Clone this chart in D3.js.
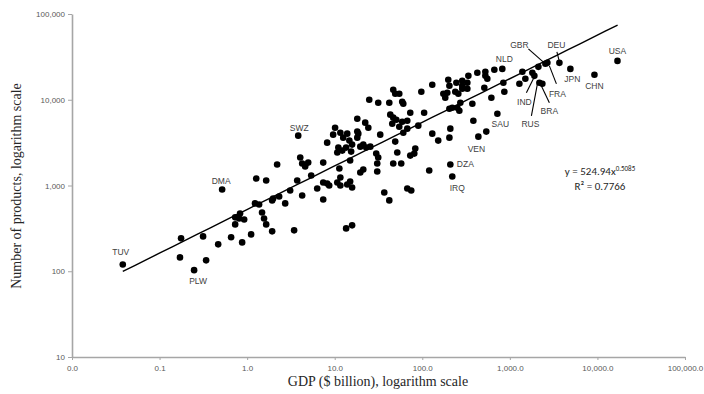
<!DOCTYPE html>
<html>
<head>
<meta charset="utf-8">
<script src="https://cdn.jsdelivr.net/npm/d3@7"></script>
<style>
  body { margin: 0; background: #fff; }
  svg { display: block; }
</style>
</head>
<body>
<svg></svg>
<script>
// GDP ($ billion) and number of products
const gdp = [
  0.038, 0.176, 0.171, 0.314, 0.34, 0.248, 0.467, 0.656, 0.877, 1.11,
  0.73, 0.73, 0.83, 0.925, 0.81, 0.518, 1.27, 1.65, 1.23, 1.37,
  1.48, 1.56, 1.65, 1.93, 1.93, 2.2, 2.32, 2.72, 3.44, 4.25,
  7.39, 13.5, 15.8, 36.8, 42, 3.1, 3.83, 4.04, 4.25, 4.6,
  4.98, 7.39, 5.39, 3.73, 1.98, 6.31, 7.39, 8.2, 8.65, 10.7,
  11.6, 13.9, 15.0, 15.8, 19.6, 21.2, 11.3, 11.6, 15.0, 8.2,
  10.1, 9.6, 11.6, 12.5, 13.9, 14.7, 15.8, 13.5, 11.0, 10.7,
  12.2, 15.4, 18.1, 22.3, 24.2, 18.6, 33.1, 19.6, 21.2, 22.9,
  25.5, 29.8, 31.4, 30.6, 30.6, 49.1, 51.8, 46.6, 57.5, 43.1,
  46.6, 50.5, 45.4, 67.4, 67.4, 60.7, 67.4, 74.8, 46.6, 49.1,
  54.6, 24.8, 31.4, 42, 59, 60.7, 97.5, 130, 198, 204,
  174, 183, 193, 238, 258, 286, 327, 245, 286, 327,
  286, 336, 425, 525, 525, 553, 665, 820, 72.9, 59,
  54.6, 105, 90, 130, 204, 220, 251, 272, 265, 373,
  383, 437, 538, 209, 152, 204, 720, 843, 865, 615,
  511, 209, 220, 120, 81, 72.9, 1390, 1503, 1285, 1807,
  1905, 2118, 2545, 2683, 3680, 4910, 9245, 16940, 2175, 2350,
  18.1, 18.1, 83.2
];
const products = [
  120, 242, 145, 255, 134, 103, 206, 249, 217, 269,
  352, 425, 472, 402, 413, 898, 1205, 1143, 618, 601,
  485, 413, 352, 292, 670, 1754, 745, 618, 300, 765,
  688, 316, 343, 829, 670, 875, 3813, 2117, 1803, 1663,
  1850, 1850, 1307, 1143, 706, 923, 1084, 1055, 1000, 1084,
  1000, 1027, 1113, 948, 1416, 1535, 1577, 1239, 1954, 3162,
  4721, 3917, 4130, 3614, 4024, 3337, 2999, 2767, 2767, 2421,
  2553, 2485, 6012, 5404, 4721, 4024, 3917, 2840, 2999, 2767,
  2840, 2356, 2117, 1803, 1455, 3250, 2421, 1803, 1803, 6699,
  6180, 5853, 5260, 5700, 4600, 4130, 923, 875, 13070, 11740,
  11740, 10000, 9230, 9230, 9480, 8980, 12390, 14940, 17090, 14550,
  11740, 10550, 12060, 12390, 11740, 13430, 13430, 15770, 16630, 15770,
  14550, 19010, 20610, 21180, 19010, 17540, 22340, 22910, 7060, 5550,
  4850, 7060, 4990, 4024, 7850, 8070, 8070, 9230, 7450, 8980,
  5700, 3715, 4250, 4600, 3337, 3614, 6870, 15770, 12390, 10550,
  13800, 1754, 1273, 1494, 2356, 2233, 21180, 17540, 15350, 20610,
  19010, 24200, 26240, 26920, 26920, 22910, 19540, 28400, 15770, 15350,
  4250, 3614, 2693
];

// labelled countries and the index of their point
const labelCodes = ["TUV", "PLW", "DMA", "SWZ", "NLD", "SAU", "VEN", "DZA", "IRQ",
                    "USA", "CHN", "JPN", "DEU", "GBR", "FRA", "IND", "RUS", "BRA"];
const labelIndex = [0, 5, 15, 36, 127, 146, 141, 151, 152,
                    167, 166, 165, 164, 162, 163, 160, 168, 169];

// fitted power trend y = a * x^b
const fitA = 524.94, fitB = 0.5085;
const fitRange = [0.038, 17000];
const fitR2 = 0.7766;

const xTicks = [0.01, 0.1, 1, 10, 100, 1000, 10000, 100000];
const yTicks = [10, 100, 1000, 10000, 100000];

const width = 704, height = 394;

const svg = d3.select("svg")
    .attr("width", width)
    .attr("height", height);

const x = d3.scaleLog().domain([0.01, 100000]).range([72, 685]);
const y = d3.scaleLog().domain([10, 100000]).range([357, 14]);

const axisColor = "#a6a6a6";
const tickText = "#595959";

// x axis
const gx = svg.append("g")
    .attr("transform", `translate(0,${y(10)})`)
    .call(d3.axisBottom(x).tickValues(xTicks).tickFormat(d3.format(",.1f"))
        .tickSize(3).tickSizeOuter(0).tickPadding(5));

// y axis
const gy = svg.append("g")
    .attr("transform", `translate(${x(0.01)},0)`)
    .call(d3.axisLeft(y).tickValues(yTicks).tickFormat(d3.format(","))
        .tickSize(4).tickSizeOuter(0).tickPadding(3));

[gx, gy].forEach(g => {
    g.select(".domain").attr("stroke", axisColor).attr("stroke-width", 1.6);
    g.selectAll(".tick line").attr("stroke", axisColor).attr("stroke-width", 1);
    g.selectAll(".tick text")
        .attr("fill", tickText)
        .style("font-family", "'Liberation Sans', Arial, sans-serif")
        .style("font-size", "8px");
});

// axis titles
svg.append("text")
    .attr("x", 378)
    .attr("y", 386)
    .attr("text-anchor", "middle")
    .style("font-family", "'Liberation Serif', 'Times New Roman', serif")
    .style("font-size", "14px")
    .attr("fill", "#262626")
    .text("GDP ($ billion), logarithm scale");

svg.append("text")
    .attr("transform", "translate(21,186) rotate(-90)")
    .attr("text-anchor", "middle")
    .style("font-family", "'Liberation Serif', 'Times New Roman', serif")
    .style("font-size", "14px")
    .attr("fill", "#262626")
    .text("Number of products, logarithm scale");

// trend line
const fitPts = d3.range(0, 41).map(i => {
    const lx = Math.log10(fitRange[0]) + i / 40 * (Math.log10(fitRange[1]) - Math.log10(fitRange[0]));
    const gx = Math.pow(10, lx);
    return [gx, fitA * Math.pow(gx, fitB)];
});
svg.append("path")
    .datum(fitPts)
    .attr("fill", "none")
    .attr("stroke", "#000")
    .attr("stroke-width", 1.4)
    .attr("d", d3.line().x(d => x(d[0])).y(d => y(d[1])));

// points
svg.append("g")
    .selectAll("circle")
    .data(gdp.map((g, i) => ({ gdp: g, products: products[i] })))
    .join("circle")
    .attr("cx", d => x(d.gdp))
    .attr("cy", d => y(d.products))
    .attr("r", 3.3)
    .attr("fill", "#000");

// label placement relative to the point: [dx, dy], optional leader [x1, y1, x2, y2]
const labelLayout = {
    TUV: { t: [-2, -12] },
    PLW: { t: [4, 11] },
    DMA: { t: [-1, -8] },
    SWZ: { t: [1, -8] },
    NLD: { t: [2, -10] },
    SAU: { t: [3, 10] },
    VEN: { t: [-2, 12] },
    DZA: { t: [15, -1] },
    IRQ: { t: [5, 12] },
    USA: { t: [0, -10] },
    CHN: { t: [0, 11] },
    JPN: { t: [2, 10] },
    DEU: { t: [-3, -18], l: [-2.5, -11, 0, -1] },
    GBR: { t: [-26, -19], l: [-17, -15, 0, 0] },
    FRA: { t: [10, 31], l: [2, 3, 9, 21] },
    IND: { t: [-10, 26], l: [0, 1, -8, 17] },
    RUS: { t: [-9, 41], l: [-2, 1, -8, 33] },
    BRA: { t: [7, 27], l: [-2, 0, 7, 19] }
};

const labels = svg.append("g");
labelCodes.forEach((code, k) => {
    const i = labelIndex[k];
    const px = x(gdp[i]), py = y(products[i]);
    const lay = labelLayout[code];
    if (lay.l) {
        labels.append("line")
            .attr("x1", px + lay.l[0]).attr("y1", py + lay.l[1])
            .attr("x2", px + lay.l[2]).attr("y2", py + lay.l[3])
            .attr("stroke", "#000")
            .attr("stroke-width", 1.1);
    }
    labels.append("text")
        .attr("x", px + lay.t[0])
        .attr("y", py + lay.t[1])
        .attr("dy", "0.35em")
        .attr("text-anchor", "middle")
        .style("font-family", "'Liberation Sans', Arial, sans-serif")
        .style("font-size", "8.5px")
        .attr("fill", "#404040")
        .text(code);
});

// equation
const eq = svg.append("text")
    .attr("x", 600)
    .attr("y", 175)
    .attr("text-anchor", "middle")
    .style("font-family", "Carlito, Lato, sans-serif")
    .style("font-size", "11px")
    .attr("fill", "#262626");
eq.append("tspan").text(`y = ${fitA}x`);
eq.append("tspan").attr("dy", -4).style("font-size", "7px").text(fitB);

svg.append("text")
    .attr("x", 600)
    .attr("y", 190)
    .attr("text-anchor", "middle")
    .style("font-family", "Carlito, Lato, sans-serif")
    .style("font-size", "11px")
    .attr("fill", "#262626")
    .text(`R² = ${fitR2}`);
</script>
</body>
</html>
